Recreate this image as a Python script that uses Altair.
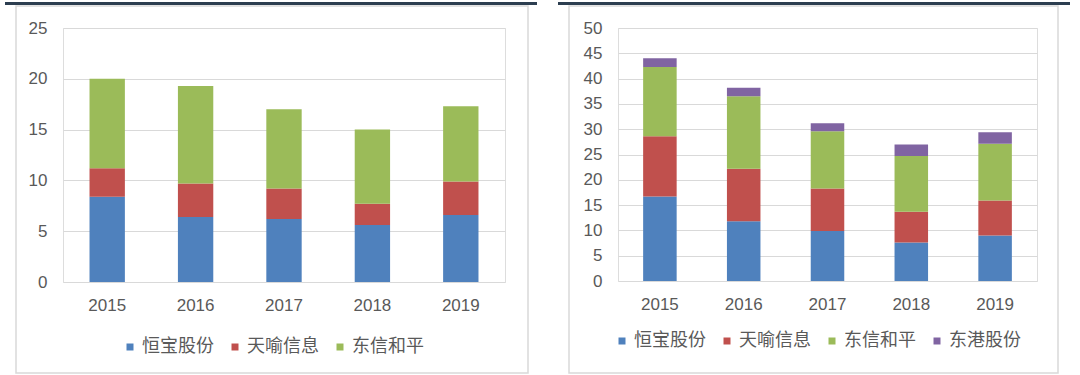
import altair as alt
import pandas as pd

years = ["2015", "2016", "2017", "2018", "2019"]

left_names = ["恒宝股份", "天喻信息", "东信和平"]
left_colors = ["#4f81bd", "#c0504d", "#9bbb59"]
left_hengbao = [8.4, 6.4, 6.2, 5.6, 6.6]
left_tianyu = [2.8, 3.3, 3.0, 2.1, 3.3]
left_dongxin = [8.8, 9.6, 7.8, 7.3, 7.4]

right_names = ["恒宝股份", "天喻信息", "东信和平", "东港股份"]
right_colors = ["#4f81bd", "#c0504d", "#9bbb59", "#8064a2"]
right_hengbao = [16.7, 11.8, 9.9, 7.6, 9.0]
right_tianyu = [11.9, 10.4, 8.4, 6.1, 6.9]
right_dongxin = [13.7, 14.3, 11.3, 11.0, 11.2]
right_donggang = [1.7, 1.7, 1.6, 2.3, 2.3]

left_ticks = [0, 5, 10, 15, 20, 25]
right_ticks = [0, 5, 10, 15, 20, 25, 30, 35, 40, 45, 50]

AXIS_FONT = "Liberation Sans"
CJK_FONT = "Noto Sans CJK SC"
GRAY = "#595959"


def make_df(names, series):
    rows = []
    for i, (n, vals) in enumerate(zip(names, series)):
        for y, v in zip(years, vals):
            rows.append({"year": y, "company": n, "value": v, "idx": i})
    return pd.DataFrame(rows)


def panel(df, names, colors, ticks, width, height, frame, line, legend_xy):
    bars = alt.Chart(df).mark_bar().encode(
        x=alt.X("year:N", sort=years, title=None,
                scale=alt.Scale(paddingInner=0.6, paddingOuter=0.3),
                axis=alt.Axis(labelAngle=0, ticks=False, domain=False, grid=False,
                              labelFont=AXIS_FONT, labelFontSize=17, labelColor=GRAY,
                              labelPadding=15)),
        y=alt.Y("value:Q", stack="zero", title=None,
                scale=alt.Scale(domain=[ticks[0], ticks[-1]], nice=False),
                axis=alt.Axis(values=ticks, ticks=False, domain=False, grid=True,
                              gridColor="#d9d9d9", gridWidth=1,
                              labelFont=AXIS_FONT, labelFontSize=17, labelColor=GRAY,
                              labelPadding=16)),
        color=alt.Color("company:N", sort=names,
                        scale=alt.Scale(domain=names, range=colors),
                        legend=alt.Legend(title=None, orient="none", direction="horizontal",
                                          legendX=legend_xy[0], legendY=legend_xy[1],
                                          symbolType="square", symbolSize=49,
                                          symbolStrokeWidth=0, labelFont=CJK_FONT,
                                          labelFontSize=18, labelColor=GRAY,
                                          labelOffset=3, columnPadding=12, padding=0)),
        order=alt.Order("idx:Q", sort="ascending"),
    )
    one = alt.Data(values=[{"a": 1}])
    fr = alt.Chart(one).mark_rect(filled=False, stroke="#d9d9d9", strokeWidth=1.5).encode(
        x=alt.value(frame[0]), x2=alt.value(frame[1]),
        y=alt.value(frame[2]), y2=alt.value(frame[3]))
    tl = alt.Chart(one).mark_rule(color="#2c3e50", strokeWidth=3).encode(
        x=alt.value(line[0]), x2=alt.value(line[1]), y=alt.value(line[2]))
    return alt.layer(fr, tl, bars).properties(width=width, height=height)


left_df = make_df(left_names, [left_hengbao, left_tianyu, left_dongxin])
right_df = make_df(right_names, [right_hengbao, right_tianyu, right_dongxin, right_donggang])

left = panel(left_df, left_names, left_colors, left_ticks, 442, 254,
             frame=(-47, 465, -22, 345), line=(-58, 474, -24.5), legend_xy=(58, 310))
right = panel(right_df, right_names, right_colors, right_ticks, 419, 253,
              frame=(-49, 440, -22, 345), line=(-60, 452, -24.5), legend_xy=(-5, 304))

chart = alt.hconcat(left, right, spacing=113, bounds="flush").resolve_scale(
    color="independent", x="independent", y="independent"
).properties(
    padding={"left": 3, "top": 1, "right": 0, "bottom": 0}
).configure_view(stroke=None).configure(background="white")

chart.save("out.html", embed_options={"renderer": "svg", "actions": False})
